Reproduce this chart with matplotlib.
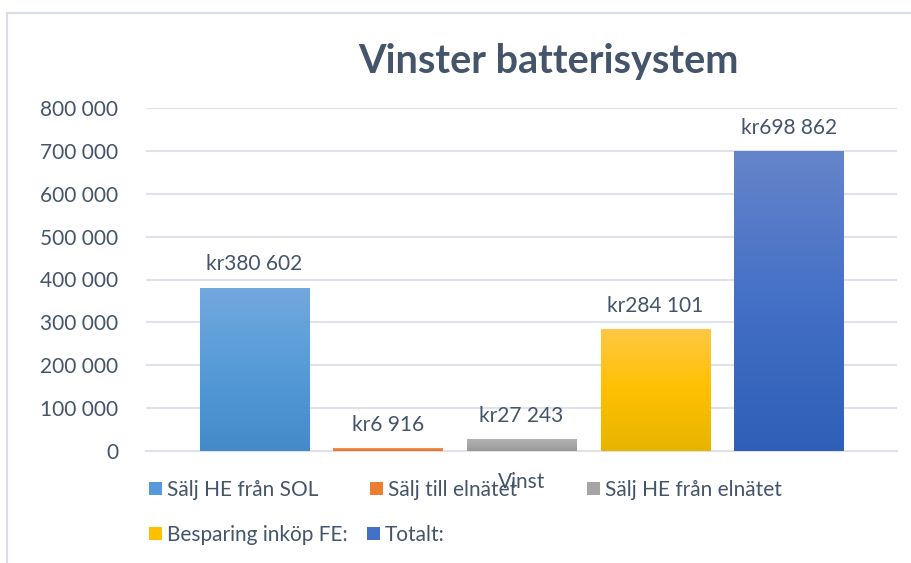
import matplotlib.pyplot as plt
import numpy as np
from matplotlib.colors import LinearSegmentedColormap
from matplotlib.patches import Patch
from matplotlib.lines import Line2D

category = "Vinst"
series = ["Sälj HE från SOL", "Sälj till elnätet", "Sälj HE från elnätet",
          "Besparing inköp FE:", "Totalt:"]
values = [380602, 6916, 27243, 284101, 698862]
yticks = [0, 100000, 200000, 300000, 400000, 500000, 600000, 700000, 800000]

# gradient stops (top, middle, bottom) per series
grad_top = ["#72a8dd", "#f39a62", "#b2b2b2", "#ffc844", "#6585ca"]
grad_mid = ["#569bd8", "#ed7d31", "#a5a5a5", "#ffc000", "#4470c6"]
grad_bot = ["#448ac9", "#e2722a", "#979797", "#e6b400", "#2f5fb7"]

txt = "#44546A"
grid_c = "#DFE2E8"
plt.rcParams['font.family'] = ['Lato', 'DejaVu Sans']

fig = plt.figure(figsize=(9.12, 5.63), dpi=100)
ax = fig.add_axes([146/912, 1-451/563, (897-146)/912, (451-108)/563])

n = len(values)
offsets = np.arange(n) - (n - 1) / 2
width = 0.816
bars = ax.bar(offsets, values, width=width, color=grad_mid, zorder=3)

# vertical gradient in each bar
for b, top, mid, bot in zip(bars, grad_top, grad_mid, grad_bot):
    cmap = LinearSegmentedColormap.from_list("g", [bot, mid, top])
    grad = np.linspace(0, 1, 256).reshape(-1, 1)
    im = ax.imshow(grad, cmap=cmap, aspect='auto', origin='lower', zorder=3,
                   extent=(b.get_x(), b.get_x() + b.get_width(), 0, b.get_height()))
    im.set_clip_path(b)
    b.set_facecolor("none")

for b, v in zip(bars, values):
    ax.annotate("kr" + f"{v:,}".replace(",", " "),
                (b.get_x() + b.get_width() / 2, v), xytext=(0, 12.5),
                textcoords="offset points", ha="center", va="baseline",
                fontsize=15, color=txt)

ax.set_xlim(-2.81, 2.81)
ax.set_ylim(0, 800000)
ax.set_yticks(yticks)
ax.set_yticklabels([f"{v:,}".replace(",", " ") for v in yticks])
ax.set_xticks([0])
ax.set_xticklabels([category])
ax.tick_params(axis="y", length=0, pad=20, labelsize=15, labelcolor=txt)
ax.tick_params(axis="x", length=0, pad=15, labelsize=15, labelcolor=txt)
ax.grid(axis="y", color=grid_c, linewidth=1.5, zorder=0)
for s in ["top", "right", "left"]:
    ax.spines[s].set_visible(False)
ax.spines["bottom"].set_color(grid_c)
ax.spines["bottom"].set_linewidth(1.5)

fig.text(548/912, 1-62/563, "Vinster batterisystem", ha="center", va="center",
         fontsize=28.5, fontweight="bold", color=txt)

# legend entries laid out like the original (flowing rows)
leg_pos = [(149, 490), (370, 490), (587, 490), (149, 535), (367, 535)]
for name, c, (px, py) in zip(series, grad_mid, leg_pos):
    fig.legend(handles=[Patch(facecolor=c)], labels=[name], loc="center left",
               bbox_to_anchor=(px/912, 1-py/563), frameon=False, fontsize=15,
               handlelength=0.62, handleheight=0.62, handletextpad=0.25,
               borderpad=0, borderaxespad=0, labelcolor=txt)

# chart area border
fig.add_artist(Line2D([7/912, 7/912], [0, 1-13/563], color="#D9DEE4", lw=1.5))
fig.add_artist(Line2D([7/912, 1], [1-13/563, 1-13/563], color="#D9DEE4", lw=1.5))

fig.savefig("out.png", dpi=100)
